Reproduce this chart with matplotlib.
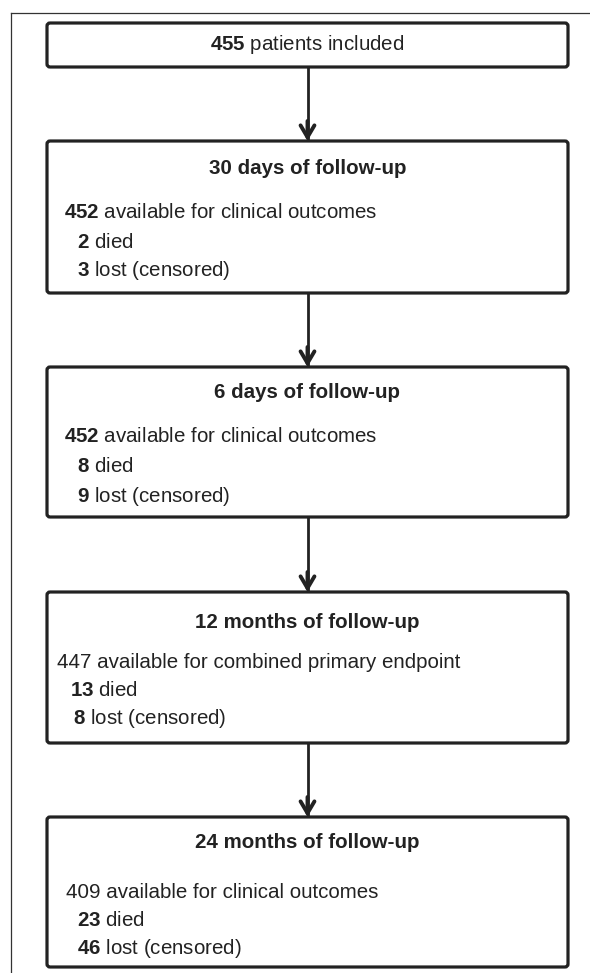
import matplotlib
matplotlib.use("Agg")
import matplotlib.pyplot as plt
from matplotlib.patches import FancyBboxPatch

plt.rcParams['font.family'] = ['Liberation Sans', 'DejaVu Sans']
plt.rcParams['mathtext.fontset'] = 'custom'
plt.rcParams['mathtext.rm'] = 'Liberation Sans'
plt.rcParams['mathtext.bf'] = 'Liberation Sans:bold'

# flow data
titles = [None, "30 days of follow-up", "6 days of follow-up",
          "12 months of follow-up", "24 months of follow-up"]
available = [455, 452, 452, 447, 409]
available_text = ["patients included", "available for clinical outcomes",
                  "available for clinical outcomes",
                  "available for combined primary endpoint",
                  "available for clinical outcomes"]
available_bold = [True, True, True, False, False]
died = [None, 2, 8, 13, 23]
lost = [None, 3, 9, 8, 46]

# layout (pixels)
box_top = [23, 141, 367, 592, 817]
box_bot = [67, 293, 517, 743, 967]
title_y = [45, 168, 393, 622, 842]
line_y = [[45], [212, 242, 271], [437, 467, 496], [663, 691, 719], [893, 921, 948]]
num_x = [None, 64, 64, 57, 66]
died_x = [None, 77, 77, 70, 77]
lost_x = [None, 77, 77, 73, 77]
x0, x1 = 47, 568
xc = (x0 + x1) / 2
FS = 14.8
COL = '#222222'

fig = plt.figure(figsize=(5.9, 9.73), dpi=100)
ax = fig.add_axes([0, 0, 1, 1])
ax.set_xlim(0, 590)
ax.set_ylim(973, 0)
ax.axis('off')


def bold(n):
    return r"$\mathbf{%s}$" % n


# outer frame
ax.plot([11, 11], [973, 12.5], color='#333333', lw=0.9)
ax.plot([11, 590], [12.5, 12.5], color='#333333', lw=0.9)

for i in range(5):
    box = FancyBboxPatch((x0, box_top[i]), x1 - x0, box_bot[i] - box_top[i],
                         boxstyle="round,pad=0,rounding_size=3",
                         fc='white', ec=COL, lw=2.3)
    ax.add_patch(box)
    num = bold(available[i]) if available_bold[i] else str(available[i])
    if i == 0:
        ax.text(xc, title_y[0], num + " " + available_text[0], fontsize=FS,
                color=COL, ha='center', va='center')
        continue
    ax.text(xc, title_y[i], titles[i], fontsize=FS, fontweight='bold',
            color=COL, ha='center', va='center')
    ax.text(num_x[i], line_y[i][0], num + " " + available_text[i],
            fontsize=FS, color=COL, va='center')
    ax.text(died_x[i], line_y[i][1], bold(died[i]) + " died",
            fontsize=FS, color=COL, va='center')
    ax.text(lost_x[i], line_y[i][2], bold(lost[i]) + " lost (censored)",
            fontsize=FS, color=COL, va='center')

# arrows between boxes
for i in range(4):
    ax.plot([xc, xc], [box_bot[i], box_top[i + 1] - 2], color=COL, lw=2.0)
    ax.annotate("", xy=(xc, box_top[i + 1]), xytext=(xc, box_top[i + 1] - 20),
                arrowprops=dict(arrowstyle='->,head_length=0.85,head_width=0.5',
                                color=COL, lw=2.8, shrinkA=0, shrinkB=0,
                                joinstyle='miter'))

fig.savefig("out.png", dpi=100)
